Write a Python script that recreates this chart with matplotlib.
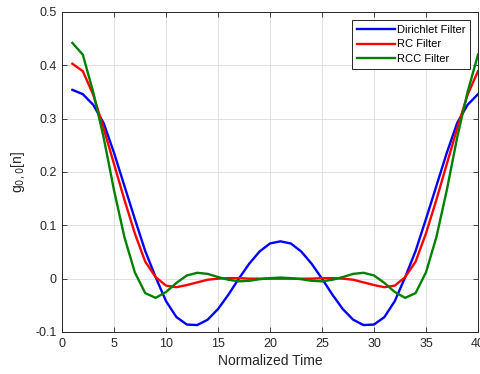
import matplotlib
matplotlib.use('Agg')
import matplotlib.pyplot as plt

plt.rcParams['font.family'] = ['Liberation Sans', 'DejaVu Sans']

# sample index n = 1..40
n = list(range(1, 41))

dirichlet = [0.354, 0.346, 0.326, 0.292, 0.236, 0.174, 0.112, 0.052, 0.003, -0.042,
             -0.072, -0.086, -0.087, -0.077, -0.057, -0.030, 0.000, 0.028, 0.051, 0.066,
             0.070, 0.066, 0.051, 0.028, 0.000, -0.030, -0.057, -0.077, -0.087, -0.086,
             -0.072, -0.042, 0.003, 0.052, 0.112, 0.174, 0.236, 0.292, 0.326, 0.346]

rc = [0.403, 0.389, 0.345, 0.282, 0.215, 0.148, 0.085, 0.032, 0.003, -0.013,
      -0.016, -0.012, -0.007, -0.002, 0.000, 0.001, 0.001, 0.000, 0.000, 0.000,
      0.000, 0.000, 0.000, 0.000, 0.001, 0.001, 0.000, -0.002, -0.007, -0.012,
      -0.016, -0.013, 0.003, 0.032, 0.085, 0.148, 0.215, 0.282, 0.345, 0.389]

rcc = [0.442, 0.420, 0.350, 0.265, 0.166, 0.078, 0.012, -0.027, -0.036, -0.025,
       -0.008, 0.006, 0.011, 0.009, 0.003, -0.002, -0.005, -0.004, -0.001, 0.001,
       0.002, 0.001, -0.001, -0.004, -0.005, -0.002, 0.003, 0.009, 0.011, 0.006,
       -0.008, -0.025, -0.036, -0.027, 0.012, 0.078, 0.166, 0.265, 0.350, 0.420]

labels = ['Dirichlet Filter', 'RC Filter', 'RCC Filter']
colors = ['#0000ff', '#ff0000', '#008000']

axc = '#262626'

fig = plt.figure(figsize=(4.8, 3.74), dpi=100)
ax = fig.add_axes([62 / 480, 1 - 332 / 374, 416 / 480, 320 / 374])

for y, lab, c in zip([dirichlet, rc, rcc], labels, colors):
    ax.plot(n, y, color=c, linewidth=1.7, label=lab)

ax.set_xlim(0, 40)
ax.set_ylim(-0.1, 0.5)
ax.set_xticks([0, 5, 10, 15, 20, 25, 30, 35, 40])
ax.set_yticks([-0.1, 0, 0.1, 0.2, 0.3, 0.4, 0.5])
ax.set_xticklabels(['0', '5', '10', '15', '20', '25', '30', '35', '40'])
ax.set_yticklabels(['-0.1', '0', '0.1', '0.2', '0.3', '0.4', '0.5'])

ax.grid(True, color='#dcdcdc', linewidth=0.6)
ax.set_axisbelow(True)
ax.tick_params(direction='in', length=3.5, width=0.6, colors=axc,
               labelsize=9, top=True, right=True, pad=4)
for s in ax.spines.values():
    s.set_color(axc)
    s.set_linewidth(0.7)

ax.set_xlabel('Normalized Time', fontsize=10, color=axc, labelpad=3)
ax.set_ylabel(r'g$_{0,0}$[n]', fontsize=10, color=axc, labelpad=6)

leg = ax.legend(loc='upper right', fontsize=8, frameon=True, fancybox=False,
                edgecolor=axc, framealpha=1, handlelength=3.4,
                handletextpad=0.2, labelspacing=0.42, borderpad=0.45,
                borderaxespad=0.7)
leg.get_frame().set_linewidth(0.7)

fig.savefig('out.png', dpi=100)
